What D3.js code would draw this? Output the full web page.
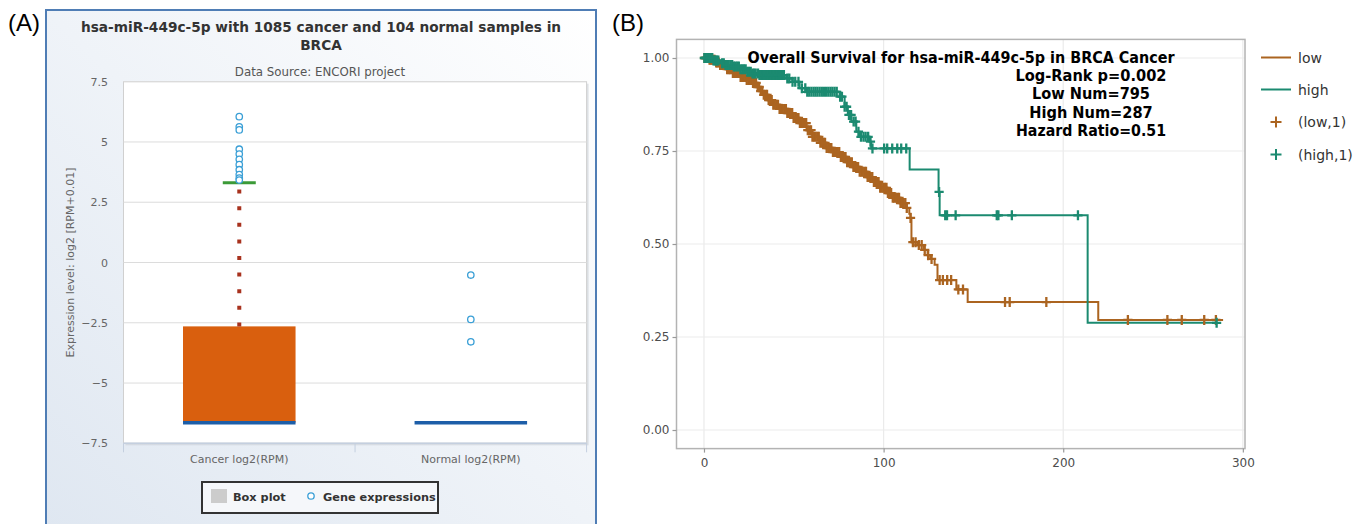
<!DOCTYPE html>
<html>
<head>
<meta charset="utf-8">
<script src="https://cdn.jsdelivr.net/npm/d3@7"></script>
<style>
  body { margin: 0; background: #fff; }
  svg { display: block; }
</style>
</head>
<body>
<svg id="fig"></svg>
<script>
// ---- panel A: box plot values (log2 RPM) ----
var boxCats = ["Cancer log2(RPM)", "Normal log2(RPM)"];
var boxQ1 = [-6.644, -6.644];
var boxMed = [-6.644, -6.644];
var boxQ3 = [-2.65, -6.644];
var boxHi = [3.31, -6.644];
var cancerOut = [6.05, 5.63, 5.5, 4.7, 4.5, 4.28, 4.06, 3.85, 3.65, 3.5, 3.42];
var normalOut = [-0.52, -2.36, -3.29];
var exprTicks = [7.5, 5, 2.5, 0, -2.5, -5, -7.5];

// ---- panel B: Kaplan-Meier steps (time, survival) ----
var lowT = [0, 3.1, 6.4, 8.6, 12.5, 15.9, 19.8, 23.7, 26.5, 29.2, 30.9, 32.6, 35.4, 38.2, 42.1, 46,
    49.3, 53.2, 57.1, 60.4, 64.3, 68.2, 71.6, 75.5, 79.4, 82.7, 86.6, 90.5, 93.8, 97.8, 101.7, 105,
    108.9, 112.8, 114.3, 115, 115.5, 119, 122.5, 124.5, 126, 128.4, 130, 140.5, 146.8, 219.5];
var lowS = [1, 0.995, 0.988, 0.981, 0.970, 0.960, 0.949, 0.941, 0.933, 0.922, 0.911, 0.901, 0.887, 0.874, 0.863, 0.852,
    0.839, 0.825, 0.806, 0.788, 0.772, 0.758, 0.747, 0.734, 0.720, 0.707, 0.694, 0.680, 0.667, 0.651, 0.637, 0.624,
    0.610, 0.597, 0.581, 0.57, 0.505, 0.497, 0.484, 0.47, 0.46, 0.444, 0.403, 0.378, 0.344, 0.296];
var lowEnd = 289;
var highT = [0, 5, 8.6, 12, 15.9, 19.5, 23.5, 27, 30.9, 45.8, 49.3, 53.2, 56.9, 75.5, 78.3, 80.1, 82,
    84.8, 86.6, 92.2, 93.1, 114.5, 130.6, 131.2, 213.6];
var highS = [1, 0.993, 0.986, 0.981, 0.977, 0.970, 0.963, 0.958, 0.954, 0.945, 0.936, 0.919, 0.909, 0.896, 0.869, 0.847, 0.829,
    0.802, 0.788, 0.775, 0.757, 0.70, 0.64, 0.577, 0.288];
var highEnd = 285.4;
var lowCens = [0.3, 0.9, 1.6, 2.4, 3.1, 3.7, 4.5, 5.2, 5.9, 6.8, 7.4, 8.2, 9, 9.7, 10.6, 11.3, 12.1, 12.9,
    13.8, 14.5, 15.4, 16.1, 17, 17.8, 18.7, 19.5, 20.4, 21.2, 22.1, 23, 23.8, 24.7, 25.6, 26.4, 27.3,
    28.1, 29, 29.9, 30.7, 31.6, 32.5, 33.3, 34.2, 35.1, 36, 36.8, 37.7, 38.6, 39.4, 40.3, 41.2, 42.1,
    42.9, 43.8, 44.7, 45.6, 46.4, 47.3, 48.2, 49.1, 49.9, 50.8, 51.7, 52.6, 53.4, 54.3, 55.2, 56.1,
    56.9, 57.8, 58.7, 59.6, 60.4, 61.3, 62.2, 63.1, 63.9, 64.8, 65.7, 66.6, 67.4, 68.3, 69.2, 70.1,
    70.9, 71.8, 72.7, 73.6, 74.4, 75.3, 76.2, 77.1, 77.9, 78.8, 79.7, 80.6, 81.4, 82.3, 83.2, 84.1,
    84.9, 85.8, 86.7, 87.6, 88.4, 89.3, 90.2, 91.1, 91.9, 92.8, 93.7, 94.6, 95.4, 96.3, 97.2, 98.1,
    98.9, 99.8, 100.7, 101.6, 102.4, 103.3, 104.2, 105.1, 105.9, 106.8, 107.7, 108.6, 109.4, 110.3,
    111.2, 112.1, 112.9, 115, 116.3, 117.8, 119.6, 121.2, 122.9, 124.8, 126.7, 131.2, 133, 135.4,
    137.6, 141.6, 144.2, 167.6, 170.2, 190.6, 236, 258, 266, 278.5, 285];
var highCens = [0.2, 0.8, 1.4, 2, 2.7, 3.3, 4, 4.6, 5.3, 6, 6.6, 7.3, 8, 10.1, 11, 12, 12.9, 13.8, 14.8,
    15.7, 16.6, 17.5, 18.5, 19.4, 20.3, 21.3, 22.2, 23.2, 24.1, 25, 26, 27, 27.9, 28.8, 30.1, 30.9,
    31.7, 32.5, 33.3, 34.1, 34.9, 35.7, 36.5, 37.3, 38.1, 38.9, 39.7, 40.5, 41.3, 42.1, 42.9, 43.7,
    44.5, 46.4, 47.5, 49.3, 50.8, 52.6, 54.5, 56.4, 57.5, 58.6, 59.8, 61, 62.1, 63.2, 64.4, 65.6, 66.8,
    68, 69.2, 70.4, 71.5, 72.7, 73.9, 75.8, 76.8, 78.3, 79.4, 80.7, 81.9, 83.3, 84.4, 86, 87.4, 88.8,
    90, 91.4, 92.7, 93.8, 100.3, 102, 104.8, 107.6, 109.8, 112.6, 130.9, 134.3, 135.3, 140.1, 163,
    163.9, 171.4, 208.2, 285.4];
var survXTicks = [0, 100, 200, 300];
var survYTicks = [0, 0.25, 0.5, 0.75, 1];
var statLines = ["Log-Rank p=0.002", "Low Num=795", "High Num=287", "Hazard Ratio=0.51"];
var legendNames = ["low", "high", "(low,1)", "(high,1)"];

var lowCol = "#ab6420", highCol = "#1b8a70";
var fontA = "'DejaVu Sans', sans-serif";

var svg = d3.select("#fig").attr("width", 1367).attr("height", 524);
svg.append("rect").attr("width", 1367).attr("height", 524).attr("fill", "#fff");

var defs = svg.append("defs");
var grad = defs.append("linearGradient").attr("id", "panelBg")
    .attr("x1", 1).attr("y1", 0).attr("x2", 0).attr("y2", 1);
grad.append("stop").attr("offset", "0%").attr("stop-color", "#ffffff");
grad.append("stop").attr("offset", "100%").attr("stop-color", "#dfe7f1");

// Panel letters
svg.append("text").attr("x", 8).attr("y", 31).text("(A)")
    .style("font-family", "'Liberation Sans', Arial, sans-serif").style("font-size", "24px");
svg.append("text").attr("x", 612).attr("y", 31).text("(B)")
    .style("font-family", "'Liberation Sans', Arial, sans-serif").style("font-size", "24px");

// ================= Panel A =================
var pa = svg.append("g");
pa.append("rect").attr("x", 46).attr("y", 10).attr("width", 550).attr("height", 520)
    .attr("fill", "url(#panelBg)").attr("stroke", "#4f7db5").attr("stroke-width", 2);

pa.append("text").attr("x", 321).attr("y", 32).attr("text-anchor", "middle")
    .text("hsa-miR-449c-5p with 1085 cancer and 104 normal samples in")
    .style("font-family", fontA).style("font-weight", "bold").style("font-size", "13.7px").attr("fill", "#333");
pa.append("text").attr("x", 321).attr("y", 50).attr("text-anchor", "middle").text("BRCA")
    .style("font-family", fontA).style("font-weight", "bold").style("font-size", "13.7px").attr("fill", "#333");
pa.append("text").attr("x", 320).attr("y", 76).attr("text-anchor", "middle").text("Data Source: ENCORI project")
    .style("font-family", fontA).style("font-size", "11.8px").attr("fill", "#555");

var xA = d3.scaleBand().domain(boxCats).range([123.5, 586.6]);
var yA = d3.scaleLinear().domain([-7.5, 7.5]).range([443.3, 81.7]);

// plot background with faint shadow
pa.append("rect").attr("x", xA.range()[0] + 2).attr("y", yA(7.5) + 2)
    .attr("width", xA.range()[1] - xA.range()[0]).attr("height", yA(-7.5) - yA(7.5))
    .attr("fill", "#c9ced6").attr("opacity", 0.6);
pa.append("rect").attr("x", xA.range()[0]).attr("y", yA(7.5))
    .attr("width", xA.range()[1] - xA.range()[0]).attr("height", yA(-7.5) - yA(7.5))
    .attr("fill", "#fff").attr("stroke", "#d0d0d0").attr("stroke-width", 1);

pa.append("g").selectAll("line").data(exprTicks).enter().append("line")
    .attr("x1", xA.range()[0]).attr("x2", xA.range()[1])
    .attr("y1", function(d) { return yA(d); }).attr("y2", function(d) { return yA(d); })
    .attr("stroke", "#dcdcdc").attr("stroke-width", 1);

pa.append("g").selectAll("text").data(exprTicks).enter().append("text")
    .attr("x", 108).attr("y", function(d) { return yA(d) + 4; })
    .attr("text-anchor", "end")
    .text(function(d) { return d < 0 ? "\u2212" + Math.abs(d) : "" + d; })
    .style("font-family", fontA).style("font-size", "11px").attr("fill", "#666");

pa.append("text")
    .attr("transform", "translate(74," + yA(0) + ") rotate(-90)")
    .attr("text-anchor", "middle").text("Expression level: log2 [RPM+0.01]")
    .style("font-family", fontA).style("font-size", "11px").attr("fill", "#666");

// x axis
pa.append("line").attr("x1", xA.range()[0]).attr("x2", xA.range()[1])
    .attr("y1", yA(-7.5)).attr("y2", yA(-7.5)).attr("stroke", "#c4cfdf").attr("stroke-width", 1.5);
var bandEdges = [xA.range()[0], xA(boxCats[1]), xA.range()[1]];
pa.append("g").selectAll("line").data(bandEdges).enter().append("line")
    .attr("x1", function(d) { return d; }).attr("x2", function(d) { return d; })
    .attr("y1", yA(-7.5)).attr("y2", yA(-7.5) + 9).attr("stroke", "#c4cfdf").attr("stroke-width", 1);
pa.append("g").selectAll("text").data(boxCats).enter().append("text")
    .attr("x", function(d) { return xA(d) + xA.bandwidth() / 2; }).attr("y", 463)
    .attr("text-anchor", "middle").text(function(d) { return d; })
    .style("font-family", fontA).style("font-size", "11px").attr("fill", "#666");

// boxes
var boxW = xA.bandwidth() * 0.486;
boxCats.forEach(function(c, i) {
    var cx = xA(c) + xA.bandwidth() / 2;
    if (boxQ3[i] > boxQ1[i]) {
        pa.append("rect").attr("x", cx - boxW / 2).attr("y", yA(boxQ3[i]))
            .attr("width", boxW).attr("height", yA(boxQ1[i]) - yA(boxQ3[i]))
            .attr("fill", "#d95f0e");
    }
    if (boxHi[i] > boxQ3[i]) {
        pa.append("line").attr("x1", cx).attr("x2", cx)
            .attr("y1", yA(boxQ3[i])).attr("y2", yA(boxHi[i]))
            .attr("stroke", "#a8321e").attr("stroke-width", 4).attr("stroke-dasharray", "4,12.6");
        pa.append("line").attr("x1", cx - 16.5).attr("x2", cx + 16.5)
            .attr("y1", yA(boxHi[i])).attr("y2", yA(boxHi[i]))
            .attr("stroke", "#3b9a37").attr("stroke-width", 3);
    }
    pa.append("line").attr("x1", cx - boxW / 2).attr("x2", cx + boxW / 2)
        .attr("y1", yA(boxMed[i])).attr("y2", yA(boxMed[i]))
        .attr("stroke", "#1d5ea8").attr("stroke-width", 3.5);
});

// outliers
var outData = cancerOut.map(function(v) { return {c: boxCats[0], v: v}; })
    .concat(normalOut.map(function(v) { return {c: boxCats[1], v: v}; }));
pa.append("g").selectAll("circle").data(outData).enter().append("circle")
    .attr("cx", function(d) { return xA(d.c) + xA.bandwidth() / 2; })
    .attr("cy", function(d) { return yA(d.v); })
    .attr("r", 3.2).attr("fill", "#fff").attr("stroke", "#3a9fd6").attr("stroke-width", 1.3);

// legend A
var lg = pa.append("g");
lg.append("rect").attr("x", 202).attr("y", 482).attr("width", 236).attr("height", 31)
    .attr("fill", "#f5f7fa").attr("stroke", "#333").attr("stroke-width", 2);
lg.append("rect").attr("x", 211).attr("y", 489).attr("width", 16).attr("height", 14).attr("fill", "#cccccc");
lg.append("text").attr("x", 233).attr("y", 501).text("Box plot")
    .style("font-family", fontA).style("font-weight", "bold").style("font-size", "11.3px").attr("fill", "#333");
lg.append("circle").attr("cx", 311).attr("cy", 496).attr("r", 3.2)
    .attr("fill", "#fff").attr("stroke", "#3a9fd6").attr("stroke-width", 1.3);
lg.append("text").attr("x", 323).attr("y", 501).text("Gene expressions")
    .style("font-family", fontA).style("font-weight", "bold").style("font-size", "11.3px").attr("fill", "#333");

// ================= Panel B =================
var pb = svg.append("g");
var xB = d3.scaleLinear().domain([-15.3, 301.2]).range([676.5, 1245]);
var yB = d3.scaleLinear().domain([-0.05, 1.05]).range([448.6, 39.4]);

pb.append("g").selectAll("line").data(survXTicks).enter().append("line")
    .attr("x1", function(d) { return xB(d); }).attr("x2", function(d) { return xB(d); })
    .attr("y1", yB.range()[1]).attr("y2", yB.range()[0])
    .attr("stroke", "#ebebeb").attr("stroke-width", 1.2);
pb.append("g").selectAll("line").data(survYTicks).enter().append("line")
    .attr("x1", xB.range()[0]).attr("x2", xB.range()[1])
    .attr("y1", function(d) { return yB(d); }).attr("y2", function(d) { return yB(d); })
    .attr("stroke", "#ebebeb").attr("stroke-width", 1.2);
pb.append("rect").attr("x", xB.range()[0]).attr("y", yB.range()[1])
    .attr("width", xB.range()[1] - xB.range()[0]).attr("height", yB.range()[0] - yB.range()[1])
    .attr("fill", "none").attr("stroke", "#b3b3b3").attr("stroke-width", 1.5);

var axL = pb.append("g").attr("transform", "translate(" + xB.range()[0] + ",0)")
    .call(d3.axisLeft(yB).tickValues(survYTicks).tickFormat(d3.format(".2f")).tickSize(4).tickPadding(3));
var axB = pb.append("g").attr("transform", "translate(0," + yB.range()[0] + ")")
    .call(d3.axisBottom(xB).tickValues(survXTicks).tickFormat(d3.format("d")).tickSize(4).tickPadding(6));
[axL, axB].forEach(function(ax) {
    ax.select(".domain").remove();
    ax.selectAll(".tick line").attr("stroke", "#999").attr("stroke-width", 1.2);
    ax.selectAll(".tick text").attr("fill", "#4d4d4d")
        .style("font-family", fontA).style("font-size", "12px");
});

function kmPoints(T, S, end) {
    var pts = T.map(function(t, i) { return {t: t, s: S[i]}; });
    pts.push({t: end, s: S[S.length - 1]});
    return pts;
}
function survAt(t, T, S) {
    var s = S[0];
    for (var i = 0; i < T.length; i++) { if (T[i] <= t) s = S[i]; }
    return s;
}
var kmLine = d3.line()
    .x(function(d) { return xB(d.t); })
    .y(function(d) { return yB(d.s); })
    .curve(d3.curveStepAfter);

pb.append("path").datum(kmPoints(lowT, lowS, lowEnd)).attr("d", kmLine)
    .attr("fill", "none").attr("stroke", lowCol).attr("stroke-width", 2);
pb.append("path").datum(kmPoints(highT, highS, highEnd)).attr("d", kmLine)
    .attr("fill", "none").attr("stroke", highCol).attr("stroke-width", 2);

var plusPath = "M-4.6,0H4.6M0,-5V5";
pb.append("g").selectAll("path").data(lowCens).enter().append("path")
    .attr("d", plusPath)
    .attr("transform", function(t) { return "translate(" + xB(t) + "," + yB(survAt(t, lowT, lowS)) + ")"; })
    .attr("fill", "none").attr("stroke", lowCol).attr("stroke-width", 2.3);
pb.append("g").selectAll("path").data(highCens).enter().append("path")
    .attr("d", plusPath)
    .attr("transform", function(t) { return "translate(" + xB(t) + "," + yB(survAt(t, highT, highS)) + ")"; })
    .attr("fill", "none").attr("stroke", highCol).attr("stroke-width", 2.3);

// title and stats
var fontB = "'Liberation Sans Narrow', 'DejaVu Sans Condensed', 'Liberation Sans', sans-serif";
pb.append("text").attr("x", 961).attr("y", 63).attr("text-anchor", "middle")
    .text("Overall Survival for hsa-miR-449c-5p in BRCA Cancer")
    .attr("textLength", 427).attr("lengthAdjust", "spacingAndGlyphs")
    .style("font-family", fontB).style("font-weight", "bold").style("font-size", "16px").attr("fill", "#000");
var statW = [151, 118, 123.5, 150];
pb.append("g").selectAll("text").data(statLines).enter().append("text")
    .attr("x", 1091).attr("y", function(d, i) { return 81 + i * 18.4; })
    .attr("text-anchor", "middle").text(function(d) { return d; })
    .attr("textLength", function(d, i) { return statW[i]; }).attr("lengthAdjust", "spacingAndGlyphs")
    .style("font-family", fontB).style("font-weight", "bold").style("font-size", "16px").attr("fill", "#000");

// legend B
var legY = [57.5, 89.5, 122, 154.5];
var legCol = [lowCol, highCol, lowCol, highCol];
legendNames.forEach(function(name, i) {
    if (i < 2) {
        pb.append("line").attr("x1", 1261).attr("x2", 1291).attr("y1", legY[i]).attr("y2", legY[i])
            .attr("stroke", legCol[i]).attr("stroke-width", 2);
    } else {
        pb.append("path").attr("d", "M-5.5,0H5.5M0,-5.5V5.5")
            .attr("transform", "translate(1276," + legY[i] + ")")
            .attr("stroke", legCol[i]).attr("stroke-width", 2);
    }
    pb.append("text").attr("x", 1298).attr("y", legY[i] + 5).text(name)
        .style("font-family", fontA).style("font-size", "14px").attr("fill", "#333");
});
</script>
</body>
</html>
